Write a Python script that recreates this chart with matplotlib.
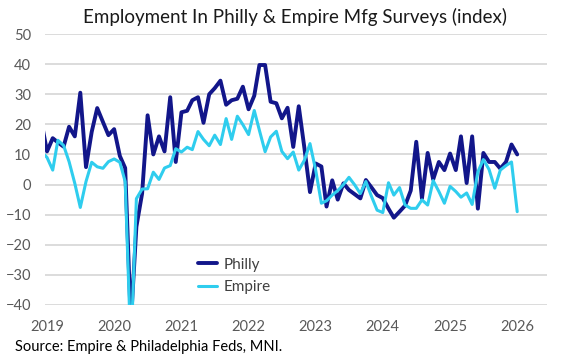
import matplotlib
matplotlib.use("Agg")
import matplotlib.pyplot as plt
import pandas as pd
import numpy as np

plt.rcParams['font.family'] = ['Lato', 'DejaVu Sans']

# Monthly data, Dec 2018 .. Jan 2026 (Dec 2018 only partially visible at the left edge)
start_month = "2018-12-01"
philly = [21,
    11, 15.4, 14, 12.6, 19.2, 16, 30.5, 5.8, 17.5, 25.4, 20.8, 16.4,
    18.4, 9.5, 5.5, -46, -14, -3, 23, 10, 16, 11, 29, 7.5,
    24, 24.5, 28, 29, 20.5, 30, 32, 34.5, 26.5, 28, 28.5, 32.5,
    25, 29.5, 39.7, 39.7, 27.5, 27, 22, 25.5, 12.5, 26, 12, -2.5,
    7, 6, -7.3, 1.4, -5, 0.4, -1.8, -3.2, -4.6, 1.5, -1, -3.5,
    -4.5, -8, -11, -9, -7, -2, 14.2, -4.6, 10.5, 1.7, 7.5, 4.8,
    10.3, 4.8, 16, 0.5, 16, -8, 10.5, 7.5, 7.5, 5.3, 7.5, 13.3,
    10]
empire = [11,
    9, 4.8, 14.7, 13, 7.6, 0.4, -7.6, 1, 7.4, 5.9, 5.4, 7.6,
    8.5, 7.4, 1, -55, -4.7, -1.5, -1.4, 4.1, 1.7, 5.5, 6.3, 11.9,
    10.8, 12.4, 11.6, 17.6, 15, 12.9, 16.4, 13.3, 21.9, 15, 22.7, 19.9,
    16.6, 24.6, 18, 10.9, 15.8, 17.7, 11, 8.6, 10.8, 4.8, 8.1, 13.6,
    4.8, -6.2, -5.4, -3.5, -2, 0, 2.4, -0.1, -3, 1, -4, -8.5,
    -9.3, 0.6, -3.5, -1, -6.8, -7.9, -7.9, -5.1, -6.8, 1.3, -2.3, -6.2,
    -0.6, -2.3, -4.2, -2.8, -6.6, 4.2, 8.3, 5, -1.2, 4.8, 6.3, 7.5,
    -9]
years = [2019, 2020, 2021, 2022, 2023, 2024, 2025, 2026]
y_ticks = [50, 40, 30, 20, 10, 0, -10, -20, -30, -40]

dates = pd.date_range(start_month, periods=len(philly), freq="MS")

fig = plt.figure(figsize=(5.86, 3.6), dpi=100)
ax = fig.add_axes([45/586, 1-305/360, (547-45)/586, (305-34)/360])

dark = "#12168A"
cyan = "#2FCDEE"
ax.plot(dates, philly, color=dark, lw=2.8, label="Philly",
        solid_joinstyle="round", solid_capstyle="round", zorder=3)
ax.plot(dates, empire, color=cyan, lw=2.2, label="Empire",
        solid_joinstyle="round", solid_capstyle="round", zorder=4)

ax.set_ylim(-40, 50)
ax.set_yticks(y_ticks)
ax.set_xlim(pd.Timestamp("2018-12-21"), pd.Timestamp("2026-06-12"))
ax.set_xticks([pd.Timestamp(f"{y}-01-01") for y in years])
ax.set_xticklabels([str(y) for y in years])
ax.grid(axis="y", color="#D9D9D9", lw=1.3)
ax.set_axisbelow(True)
for s in ax.spines.values():
    s.set_visible(False)
ax.tick_params(length=0, labelsize=10.5, colors="#595959")
ax.tick_params(axis="y", pad=10)
ax.tick_params(axis="x", pad=11)

leg = ax.legend(loc="upper left", bbox_to_anchor=(0.278, 0.225), frameon=False,
                fontsize=11, handlelength=1.25, labelspacing=0.55, handletextpad=0.4)
for t in leg.get_texts():
    t.set_color("#404040")

fig.text(0.503, 1-17/360, "Employment In Philly & Empire Mfg Surveys (index)",
         ha="center", va="center", fontsize=13.5, color="#1a1a1a")
fig.text(15/586, 1-347/360, "Source: Empire & Philadelphia Feds, MNI.",
         ha="left", va="center", fontsize=10.5, color="#000000")

fig.savefig("out.png", dpi=100)
